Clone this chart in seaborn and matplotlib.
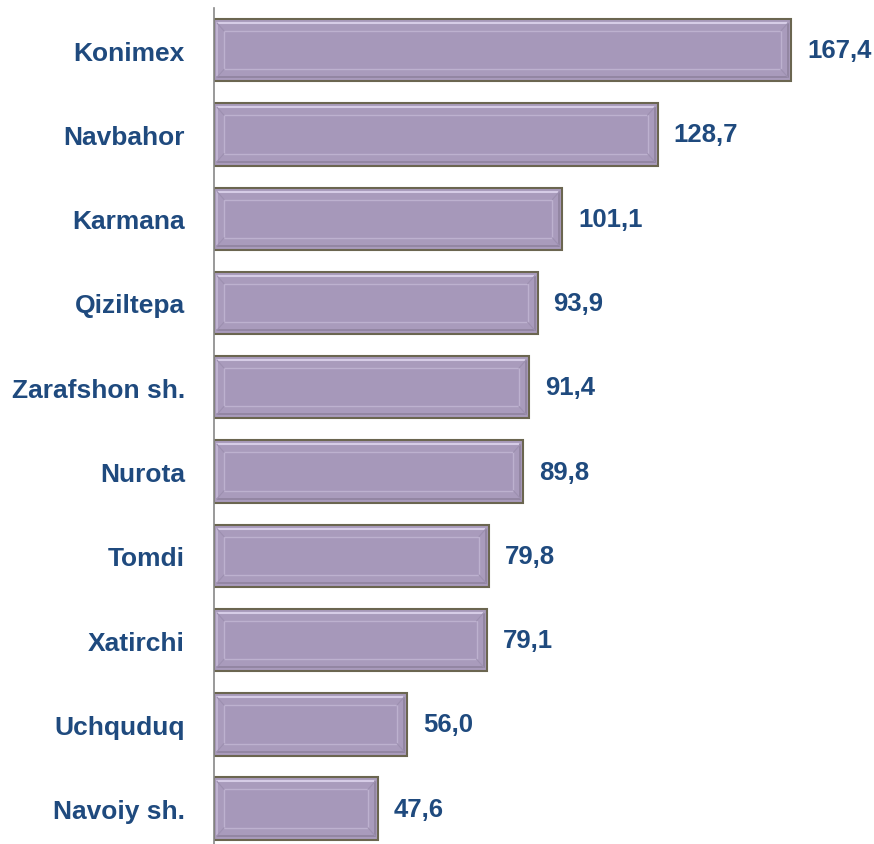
import matplotlib.pyplot as plt
import matplotlib.patches as mpatches
import pandas as pd
import seaborn as sns

districts = ["Konimex", "Navbahor", "Karmana", "Qiziltepa", "Zarafshon sh.",
             "Nurota", "Tomdi", "Xatirchi", "Uchquduq", "Navoiy sh."]
values = [167.4, 128.7, 101.1, 93.9, 91.4, 89.8, 79.8, 79.1, 56.0, 47.6]
value_labels = ["167,4", "128,7", "101,1", "93,9", "91,4",
                "89,8", "79,8", "79,1", "56,0", "47,6"]

BAR_FACE = "#A99BBC"
BAR_EDGE = "#6b6650"
TEXT_COLOR = "#1F4A7E"

sns.set_theme(style="white")
plt.rcParams["font.family"] = ["Liberation Sans", "DejaVu Sans"]

df = pd.DataFrame({"district": districts, "value": values})

fig = plt.figure(figsize=(8.74, 8.45), dpi=100)
ax = fig.add_axes([214 / 874, 0.0, 660 / 874, 836 / 845])

sns.barplot(data=df, x="value", y="district", orient="h", color=BAR_FACE,
            width=0.74, saturation=1, edgecolor=BAR_EDGE, linewidth=1.5, ax=ax)

ax.set_xlim(0, 191.5)
ax.set_ylim(9.42, -0.5)

# bevel effect for each bar: highlight frame + inner panel
px_x = 191.5 / 660
px_y = 9.92 / 836
for bar in ax.patches[:len(values)]:
    x0, y0 = bar.get_x(), bar.get_y()
    w, h = bar.get_width(), bar.get_height()
    # light top/left highlight
    ax.plot([x0 + 3 * px_x, x0 + w - 3 * px_x], [y0 + 4 * px_y, y0 + 4 * px_y],
            color="#d6cce6", lw=1.5, zorder=3)
    ax.plot([x0 + 3 * px_x, x0 + 3 * px_x], [y0 + 4 * px_y, y0 + h - 4 * px_y],
            color="#c4b8d6", lw=1.2, zorder=3)
    # darker bottom/right shade
    ax.plot([x0 + 3 * px_x, x0 + w - 3 * px_x], [y0 + h - 4 * px_y, y0 + h - 4 * px_y],
            color="#8f829f", lw=1.2, zorder=3)
    ax.plot([x0 + w - 3 * px_x, x0 + w - 3 * px_x], [y0 + 4 * px_y, y0 + h - 4 * px_y],
            color="#8f829f", lw=1.2, zorder=3)
    # inner panel
    inner = mpatches.Rectangle((x0 + 10 * px_x, y0 + 12 * px_y),
                               w - 20 * px_x, h - 24 * px_y,
                               facecolor="#a698ba", edgecolor="#bdb1cf",
                               lw=1.0, zorder=3)
    ax.add_patch(inner)
    # diagonal bevel corners
    for (ax0, ay0, ax1, ay1) in [
        (x0 + 3 * px_x, y0 + 4 * px_y, x0 + 10 * px_x, y0 + 12 * px_y),
        (x0 + w - 3 * px_x, y0 + 4 * px_y, x0 + w - 10 * px_x, y0 + 12 * px_y),
        (x0 + 3 * px_x, y0 + h - 4 * px_y, x0 + 10 * px_x, y0 + h - 12 * px_y),
        (x0 + w - 3 * px_x, y0 + h - 4 * px_y, x0 + w - 10 * px_x, y0 + h - 12 * px_y),
    ]:
        ax.plot([ax0, ax1], [ay0, ay1], color="#9d90b0", lw=0.8, zorder=3)

for i, (v, lab) in enumerate(zip(values, value_labels)):
    ax.text(v + 16 * px_x, i, lab, va="center", ha="left",
            fontsize=18.5, fontweight="bold", color=TEXT_COLOR)

ax.set_xlabel("")
ax.set_ylabel("")
ax.set_xticks([])
ax.tick_params(axis="y", length=0, pad=21)
for t in ax.get_yticklabels():
    t.set_fontsize(19)
    t.set_fontweight("bold")
    t.set_color(TEXT_COLOR)

for side in ["top", "right", "bottom"]:
    ax.spines[side].set_visible(False)
ax.spines["left"].set_color("#888888")
ax.spines["left"].set_linewidth(1.2)

fig.savefig("out.png", dpi=100)
